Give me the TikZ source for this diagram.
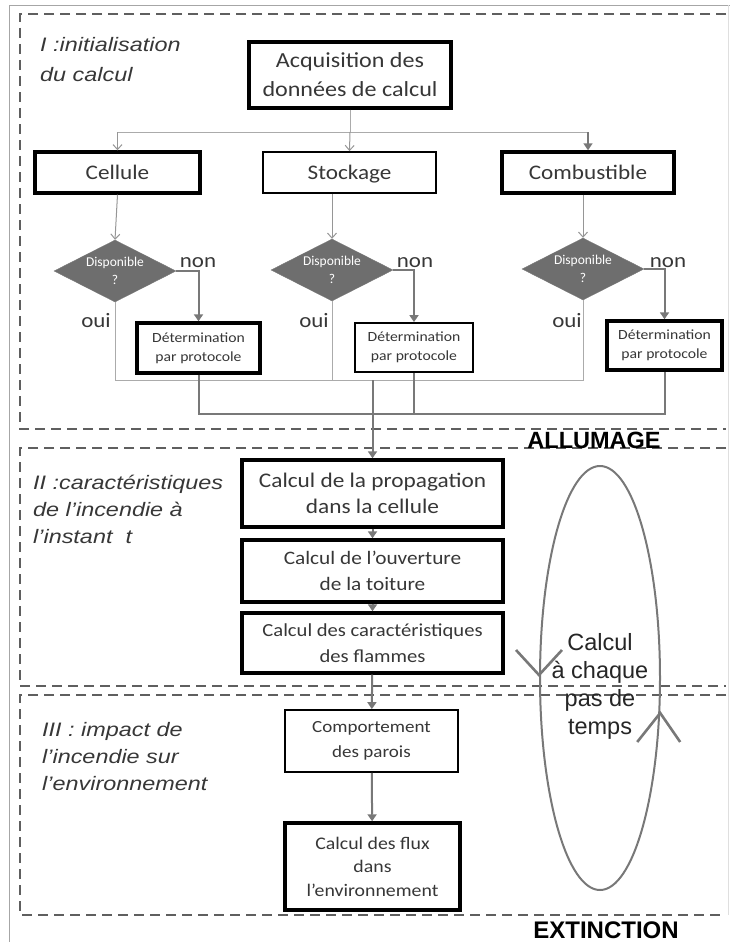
\documentclass[tikz,border=0pt]{standalone}
\usepackage{fontspec}
\setmainfont[FakeStretch=1.12]{Carlito}
\newfontfamily\plainfont{Carlito}
\newfontfamily\labelfont[FakeStretch=1.2]{Liberation Sans}
\newfontfamily\titlefont{Liberation Sans}
\usetikzlibrary{arrows.meta, shapes.geometric, positioning, calc}
\definecolor{framegray}{RGB}{95,95,95}
\definecolor{flowgray}{RGB}{120,120,120}
\definecolor{feedgray}{RGB}{150,150,150}
\definecolor{dispogray}{RGB}{110,110,110}
\definecolor{textgray}{RGB}{55,55,55}

\begin{document}
\begin{tikzpicture}[x=1pt, y=-1pt,
    frame/.style={draw=framegray, line width=2.2pt, dash pattern=on 10pt off 6pt},
    heavybox/.style={draw=black, line width=3.4pt, fill=white, align=center,
                     inner sep=1pt, text=textgray},
    lightbox/.style={heavybox, line width=1.8pt},
    sourcebox/.style={minimum height=41pt, text height=17pt, text depth=3.5pt,
                      font=\fontsize{20.7}{24}\selectfont},
    dispo/.style={diamond, aspect=2, fill=dispogray, draw=flowgray, inner sep=0pt,
                  minimum width=122pt, minimum height=62pt, align=center, text=white,
                  font=\plainfont\fontsize{13.5}{18}\selectfont},
    feed/.style={-{Straight Barb[length=5pt,width=9pt]}, line width=1pt, draw=feedgray},
    flow/.style={-{Triangle[length=7pt,width=9pt]}, line width=2pt, draw=flowgray},
    bus/.style={line width=1pt, draw=feedgray!80},
    busstrong/.style={line width=2pt, draw=flowgray},
    answer/.style={font=\fontsize{20.5}{21}\selectfont, text=textgray},
    section/.style={font=\labelfont\itshape\fontsize{19.5}{27}\selectfont, text=textgray,
                    align=left, anchor=north west, inner sep=0pt},
    stage/.style={font=\titlefont\bfseries\fontsize{23.5}{24}\selectfont, text=black}
  ]
    \useasboundingbox (0,0) rectangle (730,942);

    % outer frame and the three phases
    \draw[draw=gray!70, line width=0.8pt] (9,942) -- (9,5) -- (730,5);
    \draw[draw=gray!25, line width=0.8pt] (728,5) -- (728,915);
    \draw[frame] (726,14) -- (20,14) -- (20,429) -- (726,429);
    \draw[frame] (726,448) -- (20,448) -- (20,686) -- (726,686);
    \draw[frame] (726,695) -- (20,695) -- (20,915) -- (726,915);

    \node[section, font=\labelfont\itshape\fontsize{19.5}{30}\selectfont] (secI) at (40,37)
      {I :initialisation\\du calcul};
    \node[section] (secII) at (33,475) {II :caractéristiques\\de l’incendie à\\l’instant\ \ t};
    \node[section] (secIII) at (42,722) {III : impact de\\l’incendie sur\\l’environnement};

    % phase I : input data
    \node[heavybox, minimum width=202pt, minimum height=66pt,
          font=\fontsize{21.5}{29}\selectfont] (acq) at (350,75)
      {Acquisition des\\données de calcul};
    \node[heavybox, sourcebox, minimum width=165pt] (cell) at (117.5,172.5) {Cellule};
    \node[lightbox, sourcebox, minimum width=173pt] (stock) at (349.5,172.5) {Stockage};
    \node[heavybox, sourcebox, minimum width=172pt] (comb) at (588,172.5) {Combustible};

    \coordinate (split) at (350,132);
    \draw[bus] (acq.south) -- (split);
    \draw[bus] (cell.north |- split) -- (comb.north |- split);
    \draw[feed] (cell.north |- split) -- (cell.north);
    \draw[feed] (split) -- (stock.north);
    \draw[flow, line width=1.6pt] (comb.north |- split) -- (comb.north);

    \node[dispo] (dispoA) at (115,271) {Disponible\\?};
    \node[dispo] (dispoB) at (332,270) {Disponible\\?};
    \node[dispo] (dispoC) at (583,269) {Disponible\\?};

    \draw[feed] (cell.south) -- (dispoA.north);
    \draw[feed] (dispoB.north |- stock.south) -- (dispoB.north);
    \draw[feed] (dispoC.north |- comb.south) -- (dispoC.north);

    \node[heavybox, minimum width=123pt, minimum height=50pt,
          font=\fontsize{14}{19}\selectfont] (detA) at (198.5,348)
      {Détermination\\par protocole};
    \node[lightbox, minimum width=118pt, minimum height=49pt,
          font=\fontsize{14}{19}\selectfont] (detB) at (414,347.5)
      {Détermination\\par protocole};
    \node[heavybox, minimum width=115pt, minimum height=49pt,
          font=\fontsize{14}{19}\selectfont] (detC) at (664.5,345.5)
      {Détermination\\par protocole};

    \draw[flow] (dispoA.east) -| (detA.north);
    \draw[flow] (dispoB.east) -| (detB.north);
    \draw[flow] (dispoC.east) -| (detC.north);

    \node[answer] (nonA) at (198,263) {non};
    \node[answer] (nonB) at (415,263) {non};
    \node[answer] (nonC) at (668,263) {non};
    \node[answer] (ouiA) at (96,321) {oui};
    \node[answer] (ouiB) at (314,321) {oui};
    \node[answer] (ouiC) at (567,321) {oui};

    % gathering of the data
    \coordinate (ouibus) at (0,380);
    \coordinate (detbus) at (0,414);
    \draw[bus] (dispoA.south) -- (dispoA.south |- ouibus) -- (dispoC.south |- ouibus)
      -- (dispoC.south);
    \draw[bus] (dispoB.south) -- (dispoB.south |- ouibus);
    \draw[busstrong] (detA.south) -- (detA.south |- detbus) -- (detC.south |- detbus)
      -- (detC.south);
    \draw[busstrong] (detB.south) -- (detB.south |- detbus);

    \node[stage] (allum) at (594,440) {ALLUMAGE};

    % phase II : fire at time t
    \node[heavybox, minimum width=261pt, minimum height=67pt,
          font=\fontsize{20.8}{26}\selectfont] (prop) at (372.5,493.5)
      {Calcul de la propagation\\dans la cellule};
    \node[heavybox, minimum width=261pt, minimum height=62pt,
          font=\fontsize{19}{26}\selectfont] (ouv) at (372.5,571)
      {Calcul de l’ouverture\\de la toiture};
    \node[heavybox, minimum width=261pt, minimum height=60pt,
          font=\fontsize{18.4}{26}\selectfont] (flam) at (372.5,643)
      {Calcul des caractéristiques\\des flammes};

    \draw[flow] (prop.north |- ouibus) -- (prop.north);
    \draw[flow] (prop) -- (ouv);
    \draw[flow] (ouv) -- (flam);

    % phase III : impact
    \node[lightbox, minimum width=173pt, minimum height=62pt,
          font=\fontsize{17}{25}\selectfont] (comp) at (371.5,741)
      {Comportement\\des parois};
    \node[heavybox, minimum width=175pt, minimum height=87pt,
          font=\fontsize{17.7}{23.5}\selectfont] (flux) at (372.5,866.5)
      {Calcul des flux\\dans\\l’environnement};

    \draw[flow] (flam) -- (comp);
    \draw[flow] (comp) -- (flux);

    \node[stage, font=\titlefont\bfseries\fontsize{24}{24}\selectfont] (extinct) at (606,930)
      {EXTINCTION};

    % time loop
    \node[ellipse, draw=flowgray, line width=2pt, minimum width=120pt,
          minimum height=424pt] (loop) at (600,678) {};
    \node[font=\titlefont\fontsize{23.5}{28}\selectfont, text=black!85, align=center]
      (looptxt) at (600,686) {Calcul\\à chaque\\pas de\\temps};
    \coordinate (tipL) at ($(loop.west)+(0,-3)$);
    \coordinate (tipR) at ($(loop.east)+(-0.8,35)$);
    \draw[draw=flowgray, line width=2.6pt] ($(tipL)+(-23,-25)$) -- (tipL) -- ($(tipL)+(23,-25)$);
    \draw[draw=flowgray, line width=2.6pt] ($(tipR)+(-23,29)$) -- (tipR) -- ($(tipR)+(20,29)$);
\end{tikzpicture}
\end{document}
